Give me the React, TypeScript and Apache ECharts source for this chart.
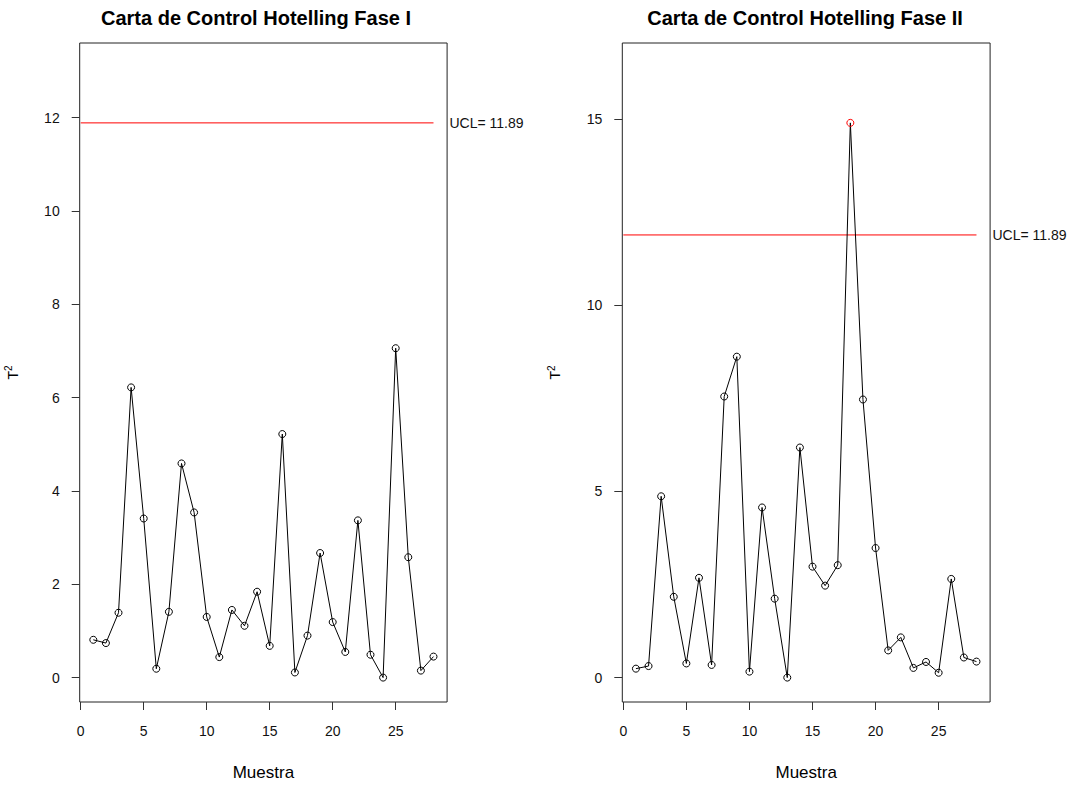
import React, { useEffect, useRef } from "react";
import * as echarts from "echarts";

const muestra = [1, 2, 3, 4, 5, 6, 7, 8, 9, 10, 11, 12, 13, 14, 15, 16, 17, 18, 19, 20, 21, 22, 23, 24, 25, 26, 27, 28];
const t2Fase1 = [0.81, 0.74, 1.39, 6.22, 3.41, 0.19, 1.41, 4.59, 3.54, 1.3, 0.44, 1.45, 1.11, 1.84, 0.68, 5.22, 0.11, 0.9, 2.67, 1.19, 0.55, 3.37, 0.49, 0.0, 7.06, 2.58, 0.15, 0.45];
const t2Fase2 = [0.24, 0.31, 4.87, 2.17, 0.38, 2.68, 0.34, 7.55, 8.62, 0.16, 4.57, 2.12, 0.0, 6.18, 2.98, 2.47, 3.02, 14.9, 7.47, 3.48, 0.73, 1.08, 0.26, 0.42, 0.13, 2.65, 0.54, 0.43];
const ucl = 11.89;
const uclLabel = "UCL= 11.89";
const uclSpan = [0, 28];
const xTicks = [0, 5, 10, 15, 20, 25];
const yTicksFase1 = [0, 2, 4, 6, 8, 10, 12];
const yTicksFase2 = [0, 5, 10, 15];
const titles = ["Carta de Control Hotelling Fase I", "Carta de Control Hotelling Fase II"];
const xName = "Muestra";
const yName = "T{s|2}";

const FONT = "Liberation Sans, Arial, sans-serif";

export default function App() {
  const ref = useRef<HTMLDivElement>(null);
  useEffect(() => {
    if (!ref.current) return;
    const chart = echarts.init(ref.current, null, { renderer: "svg" });

    const xMin = 1 - 0.04 * 27;
    const xMax = 28 + 0.04 * 27;
    const yRange = (hi: number) => [-0.04 * hi, hi * 1.04];
    const hi1 = ucl * 1.1;
    const hi2 = Math.max(...t2Fase2) * 1.1;
    const r1 = yRange(hi1);
    const r2 = yRange(hi2);

    const grids = [
      { left: 79.7, top: 43, width: 367.4, height: 659, show: true, borderColor: "#222", borderWidth: 1, backgroundColor: "transparent" },
      { left: 622.3, top: 43, width: 367.8, height: 659, show: true, borderColor: "#222", borderWidth: 1, backgroundColor: "transparent" },
    ];

    const mkX = (gi: number) => ({
      type: "value",
      gridIndex: gi,
      min: xMin,
      max: xMax,
      position: "bottom",
      splitLine: { show: false },
      axisLine: { show: false, onZero: false },
      axisTick: { show: true, customValues: xTicks, length: 8, lineStyle: { color: "#333" } },
      axisLabel: { customValues: xTicks, margin: 22, fontSize: 14, color: "#111", fontFamily: FONT },
      name: xName,
      nameLocation: "middle",
      nameGap: 62,
      nameTextStyle: { fontSize: 17, color: "#000", fontFamily: FONT },
    });
    const mkY = (gi: number, r: number[], ticks: number[]) => ({
      type: "value",
      gridIndex: gi,
      min: r[0],
      max: r[1],
      position: "left",
      splitLine: { show: false },
      axisLine: { show: false, onZero: false },
      axisTick: { show: true, customValues: ticks, length: 8, lineStyle: { color: "#333" } },
      axisLabel: { customValues: ticks, margin: 20, fontSize: 14, color: "#111", fontFamily: FONT },
      name: yName,
      nameLocation: "middle",
      nameRotate: 90,
      nameGap: 58,
      nameTextStyle: {
        fontSize: 14,
        color: "#000",
        fontFamily: FONT,
        rich: { s: { fontSize: 10, color: "#000", fontFamily: FONT, padding: [0, 0, 8, 0] } },
      },
    });

    const mkSeries = (gi: number, vals: number[]) => ({
      type: "line",
      xAxisIndex: gi,
      yAxisIndex: gi,
      data: muestra.map((m, i) => ({
        value: [m, vals[i]],
        itemStyle: { color: "rgba(0,0,0,0)", borderColor: vals[i] > ucl ? "#ff0000" : "#000", borderWidth: 1 },
      })),
      symbol: "circle",
      symbolSize: 7,
      showSymbol: true,
      lineStyle: { color: "#000", width: 1 },
      z: 3,
    });
    const mkUcl = (gi: number) => ({
      type: "line",
      xAxisIndex: gi,
      yAxisIndex: gi,
      data: uclSpan.map((x) => [x, ucl]),
      showSymbol: false,
      symbol: "none",
      silent: true,
      color: "#ff0000",
      lineStyle: { color: "#ff0000", width: 1 },
      z: 2,
      endLabel: { show: true, formatter: uclLabel, fontSize: 14, color: "#111", fontFamily: FONT, distance: 16 },
    });

    chart.setOption({
      animation: false,
      backgroundColor: "#fff",
      grid: grids,
      xAxis: [mkX(0), mkX(1)],
      yAxis: [mkY(0, r1, yTicksFase1), mkY(1, r2, yTicksFase2)],
      series: [mkUcl(0), mkSeries(0, t2Fase1), mkUcl(1), mkSeries(1, t2Fase2)],
      graphic: [
        { type: "text", x: 256, y: 18, style: { text: titles[0], font: `bold 20px ${FONT}`, fill: "#000", textAlign: "center", textVerticalAlign: "middle" } },
        { type: "text", x: 805, y: 18, style: { text: titles[1], font: `bold 20px ${FONT}`, fill: "#000", textAlign: "center", textVerticalAlign: "middle" } },
      ],
    });
    return () => chart.dispose();
  }, []);
  return <div ref={ref} style={{ position: "fixed", left: 0, top: 0, width: 1073, height: 786, background: "#fff" }} />;
}
